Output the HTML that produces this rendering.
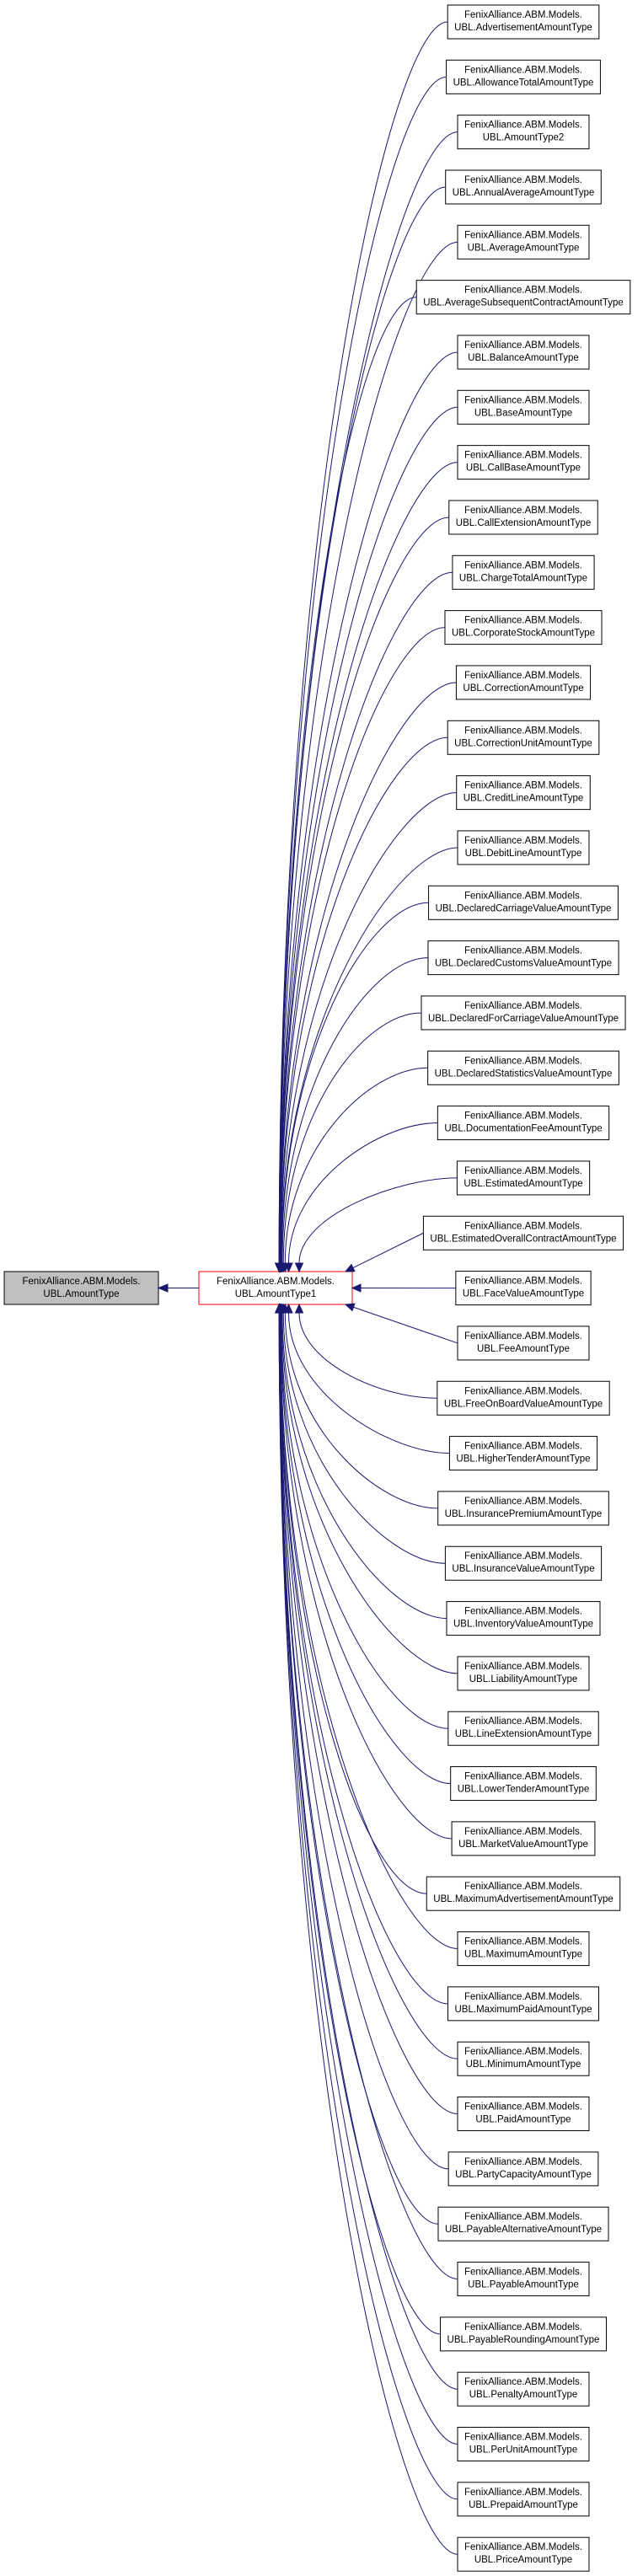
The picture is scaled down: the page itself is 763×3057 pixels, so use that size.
<!DOCTYPE html>
<html><head><meta charset="utf-8"><style>
html,body{margin:0;padding:0;background:#fff;}
svg{display:block;}
text{font-family:"Liberation Sans",Arial,sans-serif;font-size:11.5px;fill:#000;}
</style></head><body>
<svg id="s" width="763" height="3057" xmlns="http://www.w3.org/2000/svg">
<rect x="5" y="1509" width="183" height="39" fill="#bfbfbf" stroke="#000"/>
<text x="96.5" y="1524" text-anchor="middle">FenixAlliance.ABM.Models.</text>
<text x="96.5" y="1539" text-anchor="middle">UBL.AmountType</text>
<rect x="236" y="1509" width="182" height="39" fill="#fff" stroke="#f00"/>
<text x="327" y="1524" text-anchor="middle">FenixAlliance.ABM.Models.</text>
<text x="327" y="1539" text-anchor="middle">UBL.AmountType1</text>
<line x1="236" y1="1528.5" x2="198" y2="1528.5" stroke="#191970"/>
<polygon points="188,1528.5 199,1524 199,1533" fill="#191970" stroke="#191970"/>
<g id="g"></g>
</svg>
<script>
var names=["Advertisement","AllowanceTotal","AmountType2","AnnualAverage","Average","AverageSubsequentContract","Balance","Base","CallBase","CallExtension","ChargeTotal","CorporateStock","Correction","CorrectionUnit","CreditLine","DebitLine","DeclaredCarriageValue","DeclaredCustomsValue","DeclaredForCarriageValue","DeclaredStatisticsValue","DocumentationFee","Estimated","EstimatedOverallContract","FaceValue","Fee","FreeOnBoardValue","HigherTender","InsurancePremium","InsuranceValue","InventoryValue","Liability","LineExtension","LowerTender","MarketValue","MaximumAdvertisement","Maximum","MaximumPaid","Minimum","Paid","PartyCapacity","PayableAlternative","Payable","PayableRounding","Penalty","PerUnit","Prepaid","Price"];
var g=document.getElementById('g'),NS="http://www.w3.org/2000/svg";
function el(t,a,txt){var e=document.createElementNS(NS,t);for(var k in a)e.setAttribute(k,a[k]);if(txt)e.textContent=txt;g.appendChild(e);return e;}
var CY=1528.5;
names.forEach(function(n,i){
 var top=6+i*65.33, cy=top+20;
 var l2=n==="AmountType2"?"UBL.AmountType2":"UBL."+n+"AmountType";
 var t1=el("text",{x:621,y:top+15,"text-anchor":"middle"},"FenixAlliance.ABM.Models.");
 var t2=el("text",{x:621,y:top+30,"text-anchor":"middle"},l2);
 var w=Math.max(t1.getComputedTextLength(),t2.getComputedTextLength())+16;
 var L=621-w/2;
 var r=el("rect",{x:L,y:top,width:w,height:40,fill:"#fff",stroke:"#000"});
 g.insertBefore(r,t1);
 var d=i-23, ad=Math.abs(d), ex,ey,path;
 if(d===0){ex=418;ey=CY;path="M"+L+","+cy+" L"+(ex+10)+","+ey;}
 else if(ad===1){ex=410;ey=d<0?1509:1548;
  var vx=ex-L,vy=ey-cy,len=Math.hypot(vx,vy);
  path="M"+L+","+cy+" L"+(ex-vx/len*10)+","+(ey-vy/len*10);}
 else{ex=330+25/(ad-1);ey=d<0?1509:1548;var s=d<0?-1:1;
  var c2y=ey-(ey-cy)*0.6;
  path="M"+L+","+cy+" C"+(L-70)+","+cy+" "+ex+","+c2y+" "+ex+","+(ey+s*10);}
 el("path",{d:path,fill:"none",stroke:"#191970","stroke-width":1});
 var dx,dy;
 if(d===0){dx=1;dy=0;}
 else if(ad===1){var vx2=ex-L,vy2=ey-cy,l3=Math.hypot(vx2,vy2);dx=-vx2/l3;dy=-vy2/l3;}
 else{dx=0;dy=d<0?-1:1;}
 var bx=ex+dx*10,by=ey+dy*10,px=-dy*4.5,py=dx*4.5;
 el("polygon",{points:ex+","+ey+" "+(bx+px)+","+(by+py)+" "+(bx-px)+","+(by-py),fill:"#191970",stroke:"#191970"});
});
</script>
</body></html>
